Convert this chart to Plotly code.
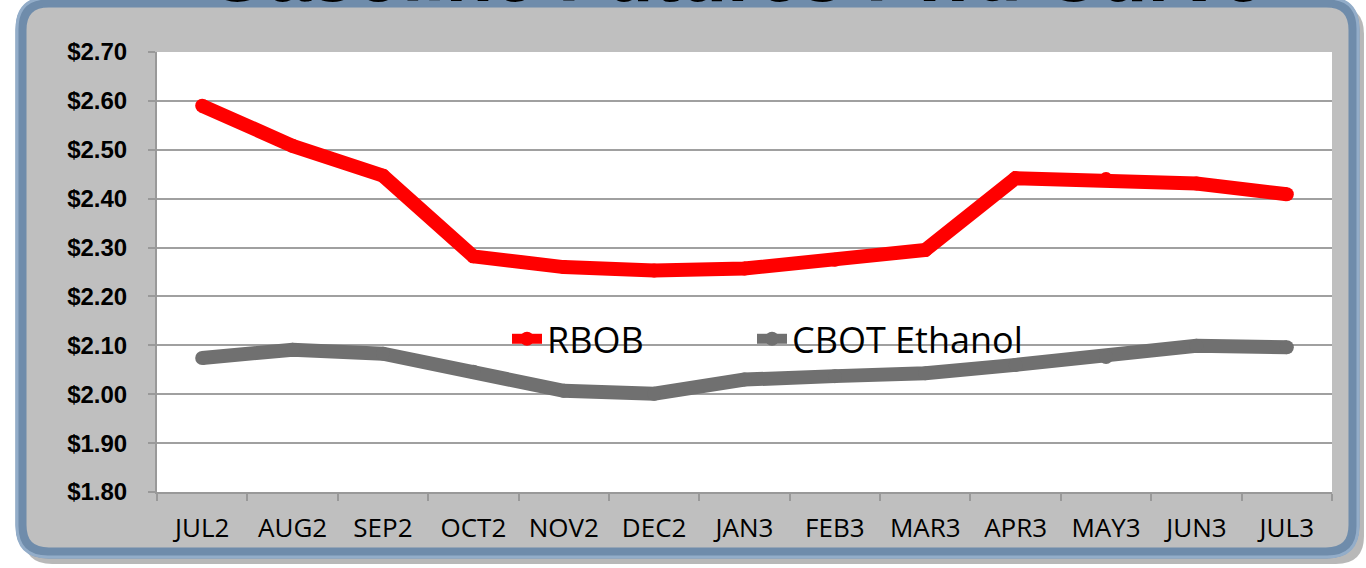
import plotly.graph_objects as go

months = ["JUL2", "AUG2", "SEP2", "OCT2", "NOV2", "DEC2", "JAN3",
          "FEB3", "MAR3", "APR3", "MAY3", "JUN3", "JUL3"]
rbob = [2.590, 2.508, 2.447, 2.282, 2.260, 2.253, 2.257,
        2.275, 2.295, 2.442, 2.440, 2.431, 2.409]
ethanol = [2.074, 2.091, 2.083, 2.046, 2.007, 2.001, 2.030,
           2.037, 2.043, 2.060, 2.076, 2.099, 2.096]
y_ticks = [1.80, 1.90, 2.00, 2.10, 2.20, 2.30, 2.40, 2.50, 2.60, 2.70]
y_labels = ["$%.2f" % v for v in y_ticks]
title_text = "Gasoline Futures Fwd Curve"

W, H = 1366, 568
ML, MR, MT, MB = 157, 34, 52, 76
PW = W - ML - MR
PH = H - MT - MB

fig = go.Figure()
fig.add_trace(go.Scatter(
    x=months, y=rbob, name="RBOB", mode="lines+markers", legend="legend",
    line=dict(color="#FF0000", width=14),
    marker=dict(color="#FF0000", size=14, line=dict(width=0)),
))
fig.add_trace(go.Scatter(
    x=months, y=ethanol, name="CBOT Ethanol", mode="lines+markers",
    legend="legend2",
    line=dict(color="#707070", width=14),
    marker=dict(color="#707070", size=14, line=dict(width=0)),
))


def P(px, py):
    return "%.5f,%.5f" % ((px - ML) / PW, (H - MB - py) / PH)


def rounded_rect(x0, y0, x1, y1, r):
    return ("M" + P(x0 + r, y0) + " L" + P(x1 - r, y0) +
            " Q" + P(x1, y0) + " " + P(x1, y0 + r) +
            " L" + P(x1, y1 - r) +
            " Q" + P(x1, y1) + " " + P(x1 - r, y1) +
            " L" + P(x0 + r, y1) +
            " Q" + P(x0, y1) + " " + P(x0, y1 - r) +
            " L" + P(x0, y0 + r) +
            " Q" + P(x0, y0) + " " + P(x0 + r, y0) + " Z")


shapes = [
    dict(type="path", xref="paper", yref="paper", layer="below",
         path=rounded_rect(24, 6, 1364, 564, 28),
         fillcolor="rgba(0,0,0,0.28)", line=dict(width=0)),
    dict(type="path", xref="paper", yref="paper", layer="below",
         path=rounded_rect(21, 2, 1354, 553, 28),
         fillcolor="#BFBFBF", line=dict(color="#6F8CAB", width=11)),
    dict(type="path", xref="paper", yref="paper", layer="below",
         path=rounded_rect(17, -2, 1358, 557, 31),
         fillcolor="rgba(0,0,0,0)", line=dict(color="#93ADC9", width=3)),
    dict(type="rect", xref="paper", yref="paper", layer="below",
         x0=0, x1=1, y0=0, y1=1, fillcolor="white", line=dict(width=0)),
]

title_y = 1 + (MT - 18) / PH
annotations = [
    dict(text="<b>" + title_text + "</b>", xref="paper", yref="paper",
         x=(736 - ML) / PW, y=title_y - 2 / PH,
         xanchor="center", yanchor="bottom", showarrow=False,
         font=dict(family="Liberation Sans", size=78, color="black")),
    dict(text="<b>" + title_text + "</b>", xref="paper", yref="paper",
         x=(733 - ML) / PW, y=title_y,
         xanchor="center", yanchor="bottom", showarrow=False,
         font=dict(family="Liberation Sans", size=78, color="#2F56A6")),
]

legend_common = dict(
    orientation="h", y=0.348, xanchor="left", yanchor="middle",
    bgcolor="rgba(0,0,0,0)",
    font=dict(family="Open Sans", size=36, color="black"),
)

fig.update_layout(
    width=W, height=H,
    margin=dict(l=ML, r=MR, t=MT, b=MB, pad=0),
    paper_bgcolor="white",
    plot_bgcolor="white",
    shapes=shapes,
    annotations=annotations,
    showlegend=True,
    legend=dict(x=(507 - ML) / PW, **legend_common),
    legend2=dict(x=(752 - ML) / PW, **legend_common),
    xaxis=dict(
        type="category", range=[-0.5, 12.5],
        showgrid=False, showline=True, linecolor="#999999", linewidth=2,
        ticks="outside", tickson="boundaries", ticklen=7, tickcolor="#999999",
        tickwidth=2, ticklabelstandoff=12,
        tickfont=dict(family="Open Sans", size=26, color="black"),
    ),
    yaxis=dict(
        range=[1.80, 2.70], tickvals=y_ticks, ticktext=y_labels,
        showgrid=True, gridcolor="#A0A0A0", gridwidth=2,
        showline=True, linecolor="#999999", linewidth=2,
        ticks="outside", ticklen=7, tickcolor="#999999", tickwidth=2,
        ticklabelstandoff=16, zeroline=False,
        tickfont=dict(family="Liberation Sans", size=24, color="black",
                      weight="bold"),
    ),
)

fig.write_html("out.html", config={"displayModeBar": False},
               post_script="document.body.style.margin='0';")
